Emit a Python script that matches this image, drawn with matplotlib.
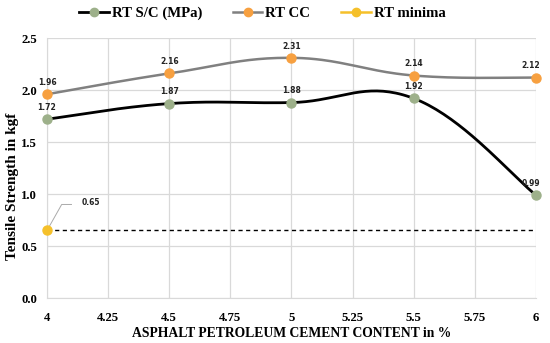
import numpy as np
import matplotlib
matplotlib.use("Agg")
import matplotlib.pyplot as plt
from matplotlib.lines import Line2D

x = [4, 4.5, 5, 5.5, 6]
rt_sc = [1.72, 1.87, 1.88, 1.92, 0.99]
rt_cc = [1.96, 2.16, 2.31, 2.14, 2.12]
minima_x = [4]
minima_y = [0.65]
xticks = [4, 4.25, 4.5, 4.75, 5, 5.25, 5.5, 5.75, 6]
xticklabels = ["4", "4.25", "4.5", "4.75", "5", "5.25", "5.5", "5.75", "6"]
yticks = [0.0, 0.5, 1.0, 1.5, 2.0, 2.5]


def smooth(xs, ys, n=40):
    xs = np.asarray(xs, float); ys = np.asarray(ys, float)
    P = np.column_stack([xs, ys])
    out = []
    for i in range(len(P) - 1):
        p0 = P[i - 1] if i > 0 else P[i]
        p1 = P[i]; p2 = P[i + 1]
        p3 = P[i + 2] if i + 2 < len(P) else P[i + 1]
        c1 = p1 + (p2 - p0) / 5.0
        c2 = p2 - (p3 - p1) / 5.0
        t = np.linspace(0, 1, n)[:, None]
        seg = (1 - t) ** 3 * p1 + 3 * (1 - t) ** 2 * t * c1 + 3 * (1 - t) * t ** 2 * c2 + t ** 3 * p2
        out.append(seg if i == 0 else seg[1:])
    s = np.vstack(out)
    return s[:, 0], s[:, 1]


serif = "Liberation Serif"
fig = plt.figure(figsize=(5.5, 3.43), dpi=100)
ax = fig.add_axes([0.0855, 0.131, 0.889, 0.758])

green = "#9DB08A"
orange = "#F7A040"
yellow = "#F5C02A"

sx, sy = smooth(x, rt_sc)
ax.plot(sx, sy, color="black", lw=2.0, zorder=3)
ax.plot(x, rt_sc, "o", color=green, ms=6.5, zorder=4, clip_on=False)
cx, cy = smooth(x, rt_cc)
ax.plot(cx, cy, color="#808080", lw=1.8, zorder=3)
ax.plot(x, rt_cc, "o", color=orange, ms=6.5, zorder=4, clip_on=False)
ax.plot(minima_x, minima_y, "o", color=yellow, ms=6.5, zorder=4, clip_on=False)
ax.plot([x[0], x[-1]], [minima_y[0], minima_y[0]], color="black", lw=1.0, ls=(0, (3, 2.5)), zorder=2)

lab_kw = dict(fontsize=5.5, fontweight="bold", ha="center", va="bottom", family="DejaVu Sans", color="#222222")
for xi, yi in zip(x, rt_sc):
    ax.text(xi - (0.02 if xi == 6 else 0), yi + 0.07, f"{yi:.2f}", **lab_kw)
for xi, yi in zip(x, rt_cc):
    ax.text(xi - (0.02 if xi == 6 else 0), yi + 0.07, f"{yi:.2f}", **lab_kw)
ax.plot([minima_x[0], 4.06, 4.1], [minima_y[0], minima_y[0] + 0.25, minima_y[0] + 0.25], color="#aaaaaa", lw=0.7, zorder=3)
ax.text(4.18, minima_y[0] + 0.27, f"{minima_y[0]:.2f}", **{**lab_kw, "va": "center"})

ax.set_xlim(4, 6)
ax.set_ylim(0, 2.5)
ax.set_xticks(xticks)
ax.set_xticklabels(xticklabels)
ax.set_yticks(yticks)
ax.set_yticklabels([f"{v:.1f}" for v in yticks])
ax.grid(True, color="#d9d9d9", lw=0.9)
ax.set_axisbelow(True)
for s in ["top", "right"]:
    ax.spines[s].set_visible(False)
for s in ["left", "bottom"]:
    ax.spines[s].set_color("#d9d9d9")
ax.tick_params(length=0, pad=10)
for lab in ax.get_xticklabels() + ax.get_yticklabels():
    lab.set_fontfamily(serif); lab.set_fontweight("bold"); lab.set_fontsize(9.2)
ax.tick_params(axis="y", pad=7)
ax.set_ylabel("Tensile Strength in kgf", fontfamily=serif, fontweight="bold", fontsize=11, va="center")
ax.yaxis.set_label_coords(-0.071, 0.43)
ax.set_xlabel("ASPHALT PETROLEUM CEMENT CONTENT in %", fontfamily=serif, fontweight="bold", fontsize=9.8, labelpad=2)

handles = [
    Line2D([], [], color="black", lw=2, marker="o", mfc=green, mec=green, ms=6),
    Line2D([], [], color="#808080", lw=1.8, marker="o", mfc=orange, mec=orange, ms=6),
    Line2D([], [], color=yellow, lw=1.8, marker="o", mfc=yellow, mec=yellow, ms=6),
]
fig.legend(handles, ["RT S/C (MPa)", "RT CC", "RT minima"], loc="upper center", bbox_to_anchor=(0.477, 1.02),
           ncol=3, frameon=False, prop={"family": serif, "weight": "bold", "size": 10.6},
           handlelength=2.0, handletextpad=0.2, columnspacing=2.1)

fig.savefig("out.png", dpi=100)
